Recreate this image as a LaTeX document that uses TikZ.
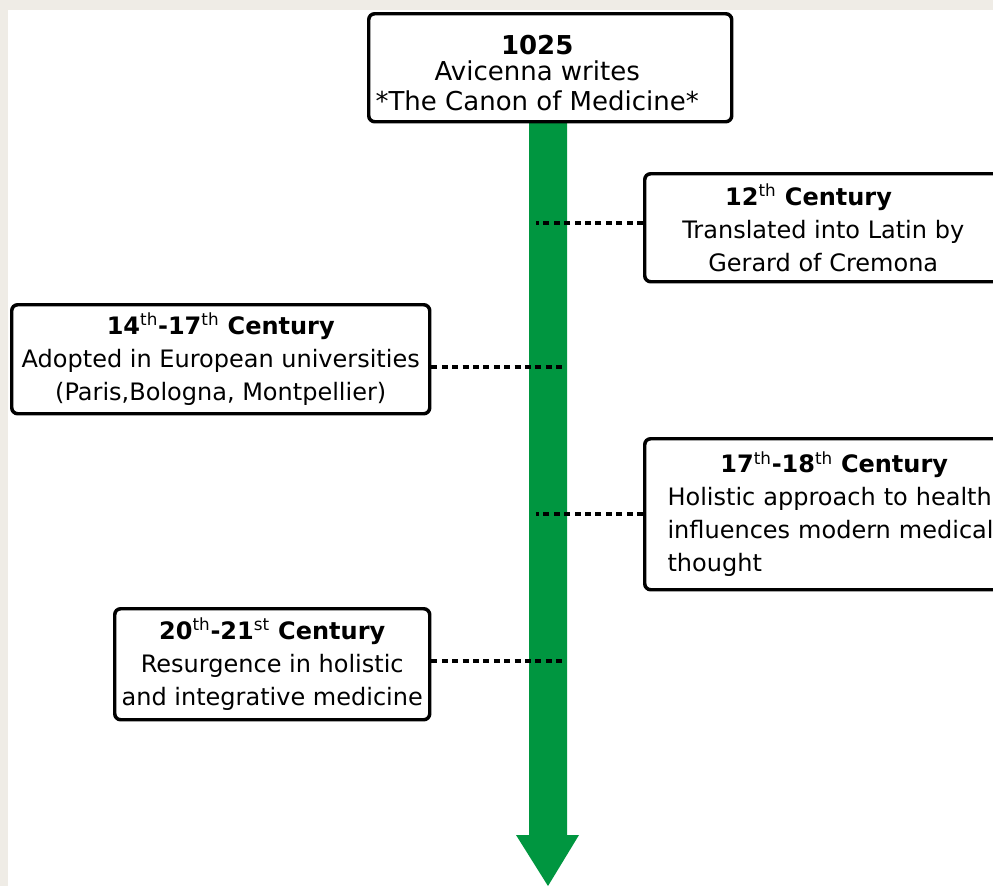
\documentclass[tikz,border=0pt]{standalone}
\usepackage{fontspec}
\setmainfont{DejaVu Sans}
\usetikzlibrary{calc}
\definecolor{timegreen}{RGB}{0,150,64}
\definecolor{paper}{RGB}{239,236,230}
\newcommand{\sufx}[1]{\textsuperscript{\mdseries #1}}

\begin{document}
\begin{tikzpicture}[x=0.75pt,y=0.75pt,yscale=-1,xscale=1,
  evbox/.style={draw=black,line width=2.6pt,rounded corners=4.5pt,fill=white,
    anchor=north west,align=center,inner sep=0pt,
    font=\fontsize{18}{24.75}\selectfont},
  link/.style={line width=3pt,dash pattern=on 4.5pt off 3.3pt}]
\useasboundingbox (0,0) rectangle (993,886);

% paper and sheet
\fill[paper] (0,0) rectangle (993,886);
\fill[white] (8,10) rectangle (993,886);

% time arrow
\fill[timegreen] (529,120) -- (567,120) -- (567,835) -- (579,835) -- (548,886)
  -- (516,835) -- (529,835) -- cycle;
\coordinate (spineL) at (536,0);
\coordinate (spineR) at (563,0);

% Text Node
\node[evbox,minimum width=272.25pt,minimum height=81pt] (canon) at (367,12) {};
\node[align=center,inner sep=0pt,font=\fontsize{19.5}{22.5}\selectfont] (canontext)
  at ($(canon.center)+(-13,5)$)
  {\textbf{1025}\\[-3pt] Avicenna writes\\ *The Canon of Medicine*};
% Text Node
\node[evbox,minimum width=267.75pt,minimum height=81pt] (latin) at (643,172)
  {\textbf{12\sufx{th} Century}\hspace*{22pt}\\ Translated into Latin by\\ Gerard of Cremona};
% Text Node
\node[evbox,minimum width=313.5pt,minimum height=81.75pt] (europe) at (10,303)
  {\textbf{14\sufx{th}-17\sufx{th} Century}\\ Adopted in European universities\\ (Paris,Bologna, Montpellier)};
% Text Node
\node[evbox,minimum width=284.25pt,minimum height=113.25pt,text width=250pt,align=left] (holism) at (643,437)
  {\makebox[\linewidth][c]{\textbf{17\sufx{th}-18\sufx{th} Century}}\\ Holistic approach to health\\ influences modern medical\\ thought};
% Text Node
\node[evbox,minimum width=236.25pt,minimum height=83.25pt] (revival) at (113,607)
  {\textbf{20\sufx{th}-21\sufx{st} Century}\\ Resurgence in holistic\\ and integrative medicine};

% dotted links to the arrow
\coordinate (latinport) at ($(latin.west)+(0,-5)$);
\coordinate (europeport) at ($(europe.east)+(0,8)$);
\coordinate (revivalport) at ($(revival.east)+(0,-3)$);
\draw[link] (latinport) -- (latinport -| spineL);
\draw[link] (europeport) -- (europeport -| spineR);
\draw[link] (holism.west) -- (holism.west -| spineL);
\draw[link] (revivalport) -- (revivalport -| spineR);

\end{tikzpicture}
\end{document}
